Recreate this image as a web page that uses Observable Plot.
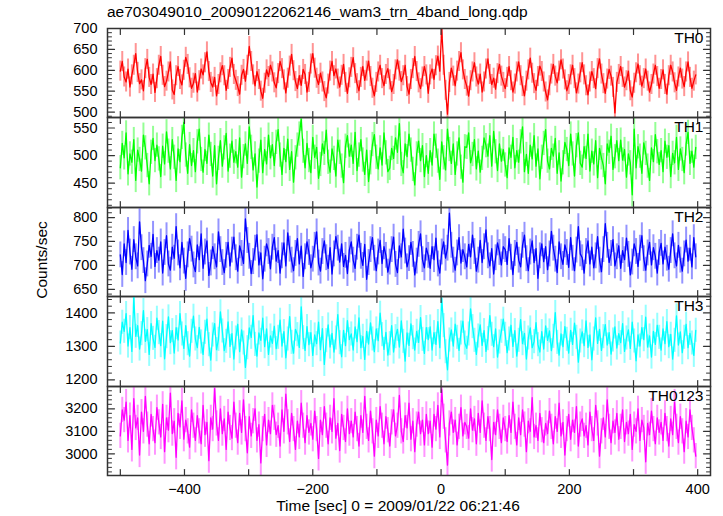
<!DOCTYPE html>
<html><head><meta charset="utf-8">
<script src="https://cdn.jsdelivr.net/npm/d3@7"></script>
<script src="https://cdn.jsdelivr.net/npm/@observablehq/plot@0.6"></script>
<style>
body{margin:0;background:#fff;font-family:"Liberation Sans",Arial,sans-serif;color:#000;}
#chart{position:relative;width:723px;height:516px;overflow:hidden;background:#fff;}
#title{position:absolute;left:107px;top:4px;font-size:15.5px;line-height:1;white-space:nowrap;}
#ylabel{position:absolute;left:42px;top:260px;transform:translate(-50%,-50%) rotate(-90deg);font-size:15.5px;line-height:1;white-space:nowrap;}
#xlabel{position:absolute;left:398px;top:498px;transform:translateX(-50%);font-size:15.5px;line-height:1;white-space:nowrap;}
</style></head><body>
<div id="chart">
<div id="title">ae703049010_20090122062146_wam3_trn_4band_long.qdp</div>
<div id="ylabel">Counts/sec</div>
<div id="xlabel">Time [sec] 0 = 2009/01/22 06:21:46</div>
</div>
<script>
// ---- data (3 s bins starting at -500 s) ----
const binStart = -500, binWidth = 3;
const bandNames = ["TH0", "TH1", "TH2", "TH3", "TH0123"];
const bandColors = ["#ff0000", "#00ff00", "#0000ff", "#00ffff", "#ff00ff"];
const bandErrors = [24, 22, 27, 36, 56];

const th0 = [598,621,584,572,603,560,589,612,640,595,568,577,551,604,626,583,566,591,547,580,
612,633,588,561,574,596,620,553,542,587,609,578,565,600,631,614,582,557,569,592,
548,575,603,589,618,644,597,571,560,583,539,566,594,611,587,552,578,607,629,590,
576,561,543,588,602,574,612,657,621,589,563,597,578,550,533,569,601,585,612,596,
570,558,592,621,604,577,546,581,610,638,599,573,556,587,564,602,590,548,571,615,
640,605,581,566,593,572,549,534,567,598,621,587,603,579,560,588,614,571,545,582,
607,630,592,568,551,583,609,576,598,622,585,557,539,571,596,612,580,563,590,604,
577,549,566,601,625,598,573,587,612,561,543,578,604,633,597,570,556,584,609,589,
545,589,603,578,611,634,598,700,612,552,495,571,605,586,563,598,621,642,601,578,
562,538,575,596,618,584,567,591,548,572,603,627,590,566,581,555,592,614,586,571,
556,583,609,575,548,567,596,620,587,561,539,574,601,629,593,568,552,585,610,597,
572,548,529,563,591,614,586,570,598,625,603,577,551,566,589,612,580,546,567,594,
618,589,563,541,572,597,580,556,604,627,591,568,545,579,602,586,559,498,571,590,
609,583,560,575,598,551,536,569,594,615,587,562,580,603,574,548,566,591,612,585,
557,578,601,566,543,587,612,596,570,552,584,605,579,561,596,620,583,557,574,589];

const th1 = [478,522,496,541,467,503,488,529,455,510,493,472,537,514,482,449,506,531,491,519,
494,462,517,485,543,508,476,529,497,455,512,489,533,560,501,468,520,482,509,471,
525,548,493,470,511,486,537,502,463,518,449,495,527,481,514,540,472,499,526,488,
507,479,532,461,498,521,486,552,515,474,503,443,490,528,469,511,485,537,496,520,
482,524,547,501,466,513,489,530,475,507,452,496,519,539,566,508,478,522,491,469,
533,497,515,459,484,521,504,546,488,470,512,495,463,528,506,481,451,517,536,499,
519,486,542,473,501,529,492,466,510,453,487,520,538,497,476,514,483,541,505,471,
477,513,495,532,506,558,484,469,521,498,539,510,475,447,503,526,491,518,462,500,
468,509,483,539,517,490,457,525,496,474,548,511,486,521,466,503,532,479,452,516,
515,541,487,502,529,476,508,470,495,532,518,499,536,481,544,507,473,521,490,511,
483,460,514,497,533,478,509,488,525,552,471,502,468,519,494,536,481,512,458,497,
522,547,490,476,513,499,531,468,505,454,487,524,511,482,539,503,463,518,541,486,
479,516,495,539,472,508,485,527,460,513,496,482,449,521,506,535,475,498,527,491,
528,492,511,461,503,487,429,548,478,516,499,468,523,504,481,455,514,489,538,507,
484,509,471,526,497,518,462,504,487,533,475,512,493,469,521,542,486,508,479,515];

const th2 = [722,681,745,706,773,728,692,754,718,699,791,737,710,668,703,742,719,765,698,731,
711,749,684,727,762,703,690,738,715,781,726,695,748,709,673,722,756,734,701,687,
743,712,766,694,728,751,679,705,739,718,697,770,733,706,685,721,748,699,732,759,
716,688,741,725,704,797,752,719,683,708,736,764,701,726,672,713,745,729,693,738,
758,709,731,684,720,747,699,768,734,711,689,725,756,703,740,677,718,749,727,695,
713,742,770,705,688,729,751,716,694,737,682,724,760,736,707,745,698,721,683,732,
749,711,694,738,763,719,700,744,671,706,733,758,715,689,728,752,704,739,721,686,
707,733,759,702,685,741,718,776,730,697,714,748,723,680,709,744,766,712,695,736,
721,694,739,712,757,703,684,728,749,715,736,809,742,711,690,726,758,705,733,718,
697,744,718,763,729,688,711,752,706,739,774,720,699,735,682,716,747,727,701,739,
733,702,756,717,681,725,748,711,697,742,763,714,689,728,751,706,735,673,720,745,
708,739,691,724,771,736,713,685,749,718,702,743,727,696,758,715,689,732,781,724,
716,684,729,751,703,738,695,720,760,711,687,733,787,742,706,725,754,699,718,741,
694,731,712,757,723,680,707,745,729,698,736,762,714,690,726,748,701,737,719,684,
727,746,703,738,715,692,731,766,720,699,742,711,688,724,753,709,736,697,758,718];

const th3 = [1310,1372,1345,1398,1301,1356,1285,1447,1330,1362,1292,1338,1407,1315,1350,1276,1368,1324,1297,1384,
1341,1302,1375,1263,1329,1388,1311,1347,1280,1356,1319,1398,1337,1294,1362,1308,1271,1345,1390,1322,
1296,1357,1313,1276,1342,1381,1305,1259,1334,1368,1290,1321,1403,1346,1287,1315,1373,1300,1338,1262,
1325,1366,1284,1349,1310,1237,1296,1355,1327,1392,1306,1271,1340,1318,1384,1299,1352,1276,1331,1309,
1360,1293,1327,1378,1301,1344,1266,1322,1389,1312,1280,1351,1335,1297,1418,1326,1288,1359,1305,1341,
1273,1334,1308,1372,1290,1353,1246,1317,1364,1298,1339,1283,1325,1395,1311,1269,1348,1302,1377,1320,
1337,1289,1358,1314,1385,1296,1330,1261,1345,1307,1370,1322,1284,1352,1317,1399,1335,1291,1342,1274,
1308,1362,1283,1329,1351,1298,1376,1315,1256,1340,1303,1367,1326,1289,1345,1312,1386,1321,1279,1356,
1320,1358,1289,1341,1306,1374,1296,1443,1362,1284,1230,1319,1349,1301,1366,1327,1288,1340,1375,1310,
1294,1337,1412,1359,1318,1276,1331,1364,1303,1347,1285,1323,1392,1336,1299,1352,1268,1313,1345,1381,
1336,1281,1322,1363,1300,1347,1271,1318,1380,1308,1339,1262,1325,1355,1296,1314,1371,1305,1283,1344,
1292,1361,1318,1346,1287,1330,1401,1312,1274,1337,1299,1359,1321,1280,1348,1306,1369,1327,1253,1316,
1343,1302,1376,1297,1334,1260,1322,1385,1309,1351,1288,1329,1365,1304,1341,1277,1319,1358,1295,1338,
1311,1368,1285,1325,1349,1294,1372,1316,1257,1334,1301,1356,1320,1387,1298,1331,1268,1345,1306,1363,
1327,1289,1352,1308,1374,1299,1336,1262,1318,1391,1304,1343,1281,1327,1366,1296,1339,1310,1273,1348];

const th0123 = [3080,3195,3150,3230,3060,3170,3020,3245,3115,3160,2995,3185,3100,3255,3130,3045,3175,3110,3050,3205,
3140,3075,3220,3010,3160,3105,3270,3090,3145,2985,3180,3120,3235,3065,3150,3100,3030,3195,3125,3060,
3170,3100,3045,3215,3085,3140,2970,3160,3110,3290,3135,3060,3200,3090,3155,3020,3185,3115,3070,3230,
3125,3050,3180,3095,3240,3110,3005,3165,3080,3145,3200,3060,3130,2960,3110,3175,3040,3150,3090,3215,
3160,3085,3125,3035,3195,3100,3265,3140,3055,3180,3110,3020,3145,3075,3225,3125,3050,3170,3095,3135,
3065,3190,3110,2980,3150,3085,3210,3125,3045,3160,3100,3245,3070,3135,3015,3175,3115,3055,3200,3090,
3145,3075,3185,3110,3035,3170,3095,3255,3120,3060,3190,3100,2990,3150,3080,3210,3125,3045,3165,3105,
3035,3140,3195,3080,3125,3260,3100,3055,3170,3115,3225,3065,3145,3010,3130,3185,3090,3150,3040,3175,
3090,3145,3030,3175,3110,3215,3075,3285,3165,3060,2950,3135,3185,3095,3150,3040,3120,3205,3080,3140,
3120,3070,3200,3105,3155,3045,3180,3095,3235,3125,3060,3165,3110,2975,3140,3085,3195,3120,3050,3160,
3110,3055,3170,3095,3230,3120,3040,3160,3085,3195,3130,3010,3145,3100,3250,3075,3125,3060,3180,3105,
3050,3135,3090,3190,3120,3045,3165,3100,3225,3080,3140,2995,3110,3175,3065,3150,3095,3210,3035,3130,
3155,3080,3125,3040,3185,3110,3060,3215,3135,2990,3100,3160,3075,3240,3120,3050,3145,3095,3180,3065,
3120,3195,3055,3140,3090,3175,3020,3130,3100,3200,3060,3150,3115,2965,3135,3085,3190,3110,3045,3160,
3095,3140,3060,3180,3110,3035,3155,3085,3230,3120,3050,3165,3100,3010,3145,3075,3195,3115,3060,2990];

const bandValues = [th0, th1, th2, th3, th0123];

// axis ticks
const xTicksMajor = [-500,-400,-300,-200,-100,0,100,200,300,400];
const xTickLabels = [-400,-200,0,200,400];
const yTickLabels = [[500,550,600,650,700],[450,500,550],[650,700,750,800],[1200,1300,1400],[3000,3100,3200]];
const yMinorStep = [10,10,10,20,20];
const yDomains = [[487,700],[406,569],[635,821],[1180,1449],[2904,3299]];
const xDomain = [-520, 420];

// ---- layout ----
const panelTops = [28,117,207,296,386];
const panelHeights = [89,90,89,90,89];
const fontFam = '"Liberation Sans", Arial, sans-serif';
const axisColor = "#333";
const tickShape = {draw(ctx, l){ ctx.moveTo(0,0); ctx.lineTo(0,-l); }};

const chart = document.getElementById("chart");

bandNames.forEach((name, k) => {
  const vals = bandValues[k];
  const err = bandErrors[k];
  const data = vals.map((v, i) => ({t: binStart + i*binWidth, v, lo: v - err, hi: v + err}));
  const [y0, y1] = yDomains[k];
  const minor = d3.range(Math.ceil(y0 / yMinorStep[k]) * yMinorStep[k], y1 + 0.001, yMinorStep[k])
    .filter(v => !yTickLabels[k].some(M => Math.abs(M - v) < 1e-9));
  const isLast = k === bandNames.length - 1;
  const tickOpts = {anchor: "start", shape: tickShape, stroke: axisColor};
  const marks = [
    Plot.ruleX(data, {x: "t", y1: "lo", y2: "hi", stroke: bandColors[k], strokeOpacity: 0.42, strokeWidth: 2, clip: true}),
    Plot.line(data, {x: "t", y: "v", stroke: bandColors[k], strokeWidth: 1.3, clip: true}),
    Plot.frame({stroke: axisColor, strokeWidth: 1.5}),
    Plot.vector(yTickLabels[k], {...tickOpts, y: d => d, frameAnchor: "left", rotate: 90, length: 7, strokeWidth: 1.2}),
    Plot.vector(yTickLabels[k], {...tickOpts, y: d => d, frameAnchor: "right", rotate: -90, length: 7, strokeWidth: 1.2}),
    Plot.vector(minor, {...tickOpts, y: d => d, frameAnchor: "left", rotate: 90, length: 4, strokeWidth: 1}),
    Plot.vector(minor, {...tickOpts, y: d => d, frameAnchor: "right", rotate: -90, length: 4, strokeWidth: 1}),
    Plot.vector(xTicksMajor, {...tickOpts, x: d => d, frameAnchor: "top", rotate: 180, length: 6, strokeWidth: 1.2}),
    Plot.vector(xTicksMajor, {...tickOpts, x: d => d, frameAnchor: "bottom", rotate: 0, length: 6, strokeWidth: 1.2}),
    Plot.axisY(yTickLabels[k], {anchor: "left", tickSize: 0, tickPadding: 10, fontSize: 14.5, label: null, fill: "#000", tickFormat: d => String(d)}),
    Plot.text([name], {frameAnchor: "top-right", text: d => d, textAnchor: "end", lineAnchor: "top", dx: -7, dy: 3, fontSize: 15.5, fill: "#000"})
  ];
  if (isLast) {
    marks.push(Plot.axisX(xTickLabels, {anchor: "bottom", tickSize: 0, tickPadding: 8, fontSize: 14.5, label: null, fill: "#000"}));
  }
  const svg = Plot.plot({
    width: 723,
    height: panelHeights[k] + (isLast ? 30 : 0),
    marginLeft: 107,
    marginRight: 13,
    marginTop: 0,
    marginBottom: isLast ? 30 : 0,
    x: {domain: xDomain, axis: null},
    y: {domain: yDomains[k], axis: null},
    style: {background: "transparent", overflow: "visible", fontFamily: fontFam},
    marks
  });
  svg.style.position = "absolute";
  svg.style.top = panelTops[k] + "px";
  svg.style.left = "0px";
  chart.appendChild(svg);
});
</script>
</body></html>
